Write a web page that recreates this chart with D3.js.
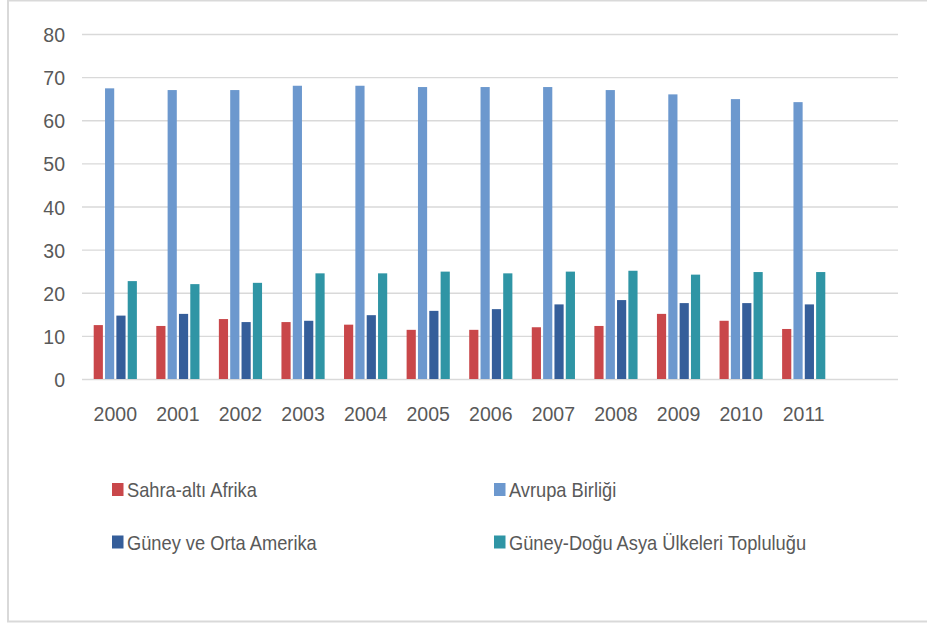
<!DOCTYPE html>
<html>
<head>
<meta charset="utf-8">
<script src="https://cdn.jsdelivr.net/npm/d3@7"></script>
<style>
  body { margin: 0; background: #fff; }
  svg { display: block; }
  text { font-family: "Liberation Sans", Arial, sans-serif; fill: #595959; }
</style>
</head>
<body>
<svg width="927" height="625"></svg>
<script>
var years = ["2000", "2001", "2002", "2003", "2004", "2005", "2006", "2007", "2008", "2009", "2010", "2011"];
var seriesNames = ["Sahra-altı Afrika", "Avrupa Birliği", "Güney ve Orta Amerika", "Güney-Doğu Asya Ülkeleri Topluluğu"];
var sahraAlti = [12.5, 12.3, 13.9, 13.2, 12.6, 11.4, 11.4, 12.0, 12.3, 15.1, 13.5, 11.6];
var avrupa = [67.4, 67.0, 67.0, 68.0, 68.0, 67.7, 67.7, 67.7, 67.0, 66.0, 64.9, 64.2];
var guneyOrta = [14.7, 15.1, 13.2, 13.5, 14.8, 15.8, 16.2, 17.3, 18.3, 17.6, 17.6, 17.3];
var asean = [22.7, 22.0, 22.3, 24.5, 24.5, 24.9, 24.5, 24.9, 25.1, 24.2, 24.8, 24.8];
var yTicks = [0, 10, 20, 30, 40, 50, 60, 70, 80];
var colors = ["#c9474a", "#6c98ce", "#355e9a", "#2f95a5"];

var allSeries = [sahraAlti, avrupa, guneyOrta, asean];

var svg = d3.select("svg");

// outer frame
svg.append("rect")
    .attr("x", 8)
    .attr("y", 0.5)
    .attr("width", 940)
    .attr("height", 621)
    .attr("fill", "none")
    .attr("stroke", "#d9d9d9")
    .attr("stroke-width", 2);

var yScale = d3.scaleLinear()
                .domain([0, 80])
                .range([379, 34]);

var xScale = d3.scaleBand()
                .domain(years)
                .range([84, 835])
                .paddingInner(0.31)
                .paddingOuter(0.155);

var xInner = d3.scaleBand()
                .domain(d3.range(seriesNames.length))
                .range([0, xScale.bandwidth()])
                .paddingInner(0.19);

var yAxis = d3.axisLeft(yScale)
                .tickValues(yTicks)
                .tickSize(-(898 - 82))
                .tickPadding(17);

var gy = svg.append("g")
    .attr("transform", "translate(82,0)")
    .call(yAxis);
gy.select(".domain").remove();
gy.selectAll(".tick line").attr("stroke", "#d9d9d9").attr("stroke-width", 1.3);
gy.selectAll(".tick text")
    .attr("fill", "#595959")
    .style("font-size", "21px")
    .attr("dy", "0.36em")
    .attr("transform", "scale(0.93,1)")
    .attr("x", -17 / 0.93);

// bars
var groups = svg.append("g")
  .selectAll("g")
  .data(years)
  .enter()
  .append("g")
    .attr("transform", d => "translate(" + xScale(d) + ",0)");

groups.selectAll("rect")
  .data((d, i) => allSeries.map((s, k) => ({k: k, v: s[i]})))
  .enter()
  .append("rect")
    .attr("x", d => xInner(d.k))
    .attr("width", xInner.bandwidth())
    .attr("y", d => yScale(d.v))
    .attr("height", d => yScale(0) - yScale(d.v))
    .attr("fill", d => colors[d.k]);

// year labels
svg.append("g")
  .selectAll("text")
  .data(years)
  .enter()
  .append("text")
    .attr("transform", d => "translate(" + (xScale(d) + xScale.bandwidth() / 2) + ",420.5) scale(0.93,1)")
    .style("text-anchor", "middle")
    .style("font-size", "21px")
    .text(d => d);

// legend
var legendX = [112, 494];
var legendY = [497, 549.5];
var legend = svg.append("g")
  .selectAll("g")
  .data(seriesNames)
  .enter()
  .append("g")
    .attr("transform", (d, i) => "translate(" + legendX[i % 2] + "," + legendY[Math.floor(i / 2)] + ")");

legend.append("rect")
    .attr("x", 0)
    .attr("y", -14)
    .attr("width", 11.5)
    .attr("height", 13)
    .attr("fill", (d, i) => colors[i]);

legend.append("text")
    .attr("transform", "translate(15,0) scale(0.87,1)")
    .style("font-size", "21px")
    .text(d => d);
</script>
</body>
</html>
